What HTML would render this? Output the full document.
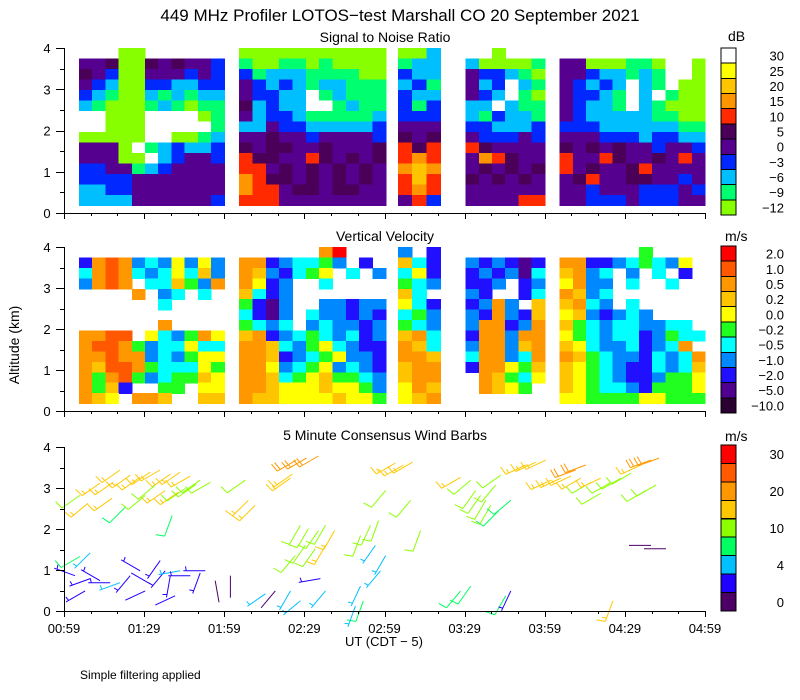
<!DOCTYPE html>
<html>
<head>
<meta charset="utf-8">
<style>
  html,body{margin:0;padding:0;background:#fff;}
  svg{display:block;}
  text{font-family:"Liberation Sans",sans-serif;fill:#000;}
</style>
</head>
<body>
<svg id="chart" width="800" height="700" viewBox="0 0 800 700" shape-rendering="crispEdges">
  <text x="400" y="21" font-size="17" text-anchor="middle">449 MHz Profiler LOTOS−test Marshall CO 20 September 2021</text>
  <text x="385" y="42" font-size="14" text-anchor="middle">Signal to Noise Ratio</text>
  <text x="385" y="241" font-size="14" text-anchor="middle">Vertical Velocity</text>
  <text x="385" y="440" font-size="14" text-anchor="middle">5 Minute Consensus Wind Barbs</text>
  <text x="19" y="345" font-size="14" text-anchor="middle" transform="rotate(-90 19 345)">Altitude (km)</text>
  <text x="384" y="646" font-size="13" text-anchor="middle">UT  (CDT − 5)</text>
  <text x="80" y="679" font-size="12">Simple filtering applied</text>
  <text x="728" y="41" font-size="14">dB</text>
  <text x="725" y="241" font-size="14">m/s</text>
  <text x="725" y="441" font-size="14">m/s</text>
  <g id="layer"></g>
</svg>
<script>
// ---------- shared data ----------
const xTickLabels = ["00:59","01:29","01:59","02:29","02:59","03:29","03:59","04:29","04:59"];
const yTickLabels = ["0","1","2","3","4"];
const segStart = [5.6, 65.6, 125, 150.4, 185.6];   // minutes after 00:59
const segEnd   = [60, 120.5, 141, 180, 240];

const snrColors = ["#88ff00","#00ff70","#00bfff","#0028ff","#560090","#4a0058","#ff2a00","#ff9600","#ffc400","#ffff00","#ffffff"];
const snrLabels = ["−12","−9","−6","−3","0","5","10","15","20","25","30"];
const vvColors = ["#2a0030","#500090","#2010ff","#0088ff","#00ffff","#20ff20","#ffff00","#ffc400","#ff9800","#ff5800","#ff0000"];
const vvLabels = ["−10.0","−5.0","−2.0","−1.0","−0.5","−0.2","0.0","0.2","0.5","1.0","2.0"];
const windColors = ["#4c0066","#2000ff","#00c0ff","#00ff60","#8cff00","#ffc800","#ff9800","#ff5a00","#ff0000"];
const windBounds = [2,4,7,10,15,20,25,30];
const windLabels = ["0","","4","","10","","20","","30"];

const snrSeg1 = ["...00......","44500545443","54300444343","43200332233","32100212122","21000121011","ww000wwww01","ww000wwwww1","00000ww0012","4440w123223","44400w23443","33441234444","33334444444","22334444444","22224444443"];
const snrSeg2 = ["00000000000","10011010000","31222111100","43232122111","43322w12111","52322ww1211","42332111112","22433222223","44544344443","54554454445","65544654545","66454545454","76554545454","76645545544","66644444444"];
const snrSeg3 = ["002","122","322","231","322","313","333","444","545","656","676","787","686","676","463"];
const snrSeg4 = ["..0...","200001","433210","423w21","432w10","22w211","213221","332223","433343","654444","476544","454545","545454","444444","444466"];
const snrSeg5 = ["........www","44000110ww0","44322121ww0","43232w21w00","43321w2w100","43221w21000","43222221100","33322222211","44433323322","54545443443","64465445464","64544564444","45644554434","44344433343","44333433344"];

const vvSeg1 = ["...........","28983436363","48984346473","3898.447538","....8.34.4.","......4....","...........","......8....","8899.643586","89985344644","88988343566","87998544465","85895345576","8572..55.66","876.887..77"];
const vvSeg2 = ["......8a...","88234453.2.","8732456.4.3","8623..4....","7423.......","5213..33233","4213.433232","5434.343323","78234543423","88743564322","88723456332","88634563432","88745675543","88766676653","87766667665"];
const vvSeg3 = ["3.2","742","462","543","74.","642","453","543","784","874","887","788","788","687","678"];
const vvSeg4 = ["......","323212","232314","223.23","32..24","2383.7","328327","388238","288388","388378","488348","288657",".87546",".8765.","......"];
const vvSeg5 = ["......5....","8822345436.","7834.3.4.2.","6833.4..4..","8734.......","7843.4.....","6732343....","7543443344.","65434423544","7643342348.","87543324348","76543224347","76543223556","76544325556","66555566555"];

const barbTime = [13.5,18.4,6,9,18,22.9,28.5,32.3,36,39.8,43.5,47.3,51,37.9,42.8,34.1,45.4,49.5,54.8,21,24.8,30.4,40.5,
  67.9,69,71.6,87,90.8,95.3,85.5,84.8,88.5,91.5,95.3,97.9,101.3,90.4,94.1,97.9,86.6,111,114.8,117.8,
  124.1,127.1,130.5,120.4,129.8,133.5,148.5,152.3,154.1,156,157.9,159.8,161.6,163.5,162.8,167.3,
  172.9,176.6,180.4,191.6,195.4,182.3,186,189.8,193.5,197.3,201,204.8,208.5,212.3,216,219.8,222.8,217.9,221.6,201,
  6,9.8,4.1,9.8,13.5,17.3,7.9,21,24.8,28.5,36,37.9,39.8,43.5,47.3,51,52.9,30.4,32.3,41.6,56.6,62.3,75.4,79.1,84.8,88.5,96,97.9,112.1,118.5,120.4,116.6,109.1,111,148.5,152.3,165.4,167.3,205.5,219.8,225.4];
const barbHeight = [3.12,3.14,2.82,2.63,2.75,2.53,3.26,3.39,3.44,3.34,3.39,3.29,3.19,2.94,2.9,3.07,2.99,3.09,3.14,3.44,3.31,2.82,2.33,
  3.19,2.7,2.58,3.68,3.73,3.78,3.34,3.24,2.09,2.01,1.96,2.09,1.96,1.6,1.52,1.6,1.35,1.84,2.09,2.21,
  3.61,3.56,3.63,2.94,2.7,1.96,3.26,3.19,2.94,2.82,2.7,2.58,3.07,3.31,2.45,2.7,
  3.56,3.63,3.68,3.44,3.56,3.19,3.24,3.29,3.24,3.14,3.24,3.14,3.24,3.36,3.56,3.68,3.73,2.94,3.07,2.87,
  1.33,1.42,0.86,0.79,0.74,0.69,0.49,0.69,0.86,0.98,1.23,0.98,0.86,0.98,0.86,0.93,0.98,0.49,0.66,0.37,0.74,0.86,0.42,0.49,0.49,0.25,0.79,0.49,0.25,0.98,1.35,1.6,0.12,0.61,0.49,0.61,0.37,0.49,0.25,1.6,1.52];
const barbSpeed = [17,17,12,17,17,9,17,17,17,17,17,17,12,17,17,12,12,12,12,17,17,12,9,
  12,17,17,22,22,22,17,17,12,12,12,12,17,12,12,17,12,12,12,12,
  17,17,17,12,12,12,17,12,12,12,12,12,12,12,9,9,
  17,17,17,22,22,17,17,17,17,12,17,12,12,12,17,22,22,12,12,12,
  9,5,3,3,3,3,3,5,3,3,3,3,3,5,3,3,3,2,2,2,1,1,5,1,5,5,3,5,9,5,5,5,5,5,9,9,9,3,17,1,1];
const barbDir = [235,235,235,230,235,225,235,235,240,235,235,240,235,235,235,230,235,235,240,235,235,230,200,
  235,225,225,240,240,240,235,235,210,210,215,210,210,215,215,210,220,200,205,200,
  240,240,240,220,220,200,240,230,215,215,210,210,220,235,225,230,
  245,245,245,250,250,245,245,245,240,240,245,240,240,240,245,250,250,240,240,240,
  240,225,290,250,300,270,240,250,220,300,215,220,190,260,270,200,270,245,300,245,170,180,235,220,210,230,260,220,200,220,210,215,200,205,220,215,210,205,200,270,270];

// ---------- geometry ----------
const X0 = 64, X1 = 705;
function xScale(t){ return X0 + t * (X1 - X0) / 240; }
const panels = [
  {name:"snr", y0:213, y4:48},
  {name:"vv", y0:411, y4:247},
  {name:"wind", y0:611, y4:447}
];
function yScale(p, h){ return p.y0 + (p.y4 - p.y0) * h / 4; }
const NS = "http://www.w3.org/2000/svg";
const layer = document.getElementById("layer");
function mk(tag, attrs, parent){
  const e = document.createElementNS(NS, tag);
  for (const k in attrs) e.setAttribute(k, attrs[k]);
  (parent || layer).appendChild(e);
  return e;
}

const altTop = 4.0, altBottom = 0.18;
function drawGrid(p, segs, colors, label){
  const g = mk("g", {});
  
  
  segs.forEach((rows, s) => {
    const nR = rows.length, nC = rows[0].length;
    const dt = (segEnd[s] - segStart[s]) / nC;
    const dh = (altTop - altBottom) / nR;
    for (let r = 0; r < nR; r++){
      for (let c = 0; c < nC; c++){
        const ch = rows[r][c];
        if (ch === ".") continue;
        const lvl = (ch === "w" || ch === "a") ? 10 : parseInt(ch, 10);
        const xa = xScale(segStart[s] + c * dt), xb = xScale(segStart[s] + (c + 1) * dt);
        const hTop = altTop - r * dh, hBot = hTop - dh;
        const ya = yScale(p, hTop), yb = yScale(p, hBot);
        const rect = mk("rect", {x:xa.toFixed(2), y:ya.toFixed(2), width:(xb - xa + 0.6).toFixed(2), height:(yb - ya + 0.6).toFixed(2), fill:colors[lvl]}, g);
        
        
      }
    }
  });
}
drawGrid(panels[0], [snrSeg1, snrSeg2, snrSeg3, snrSeg4, snrSeg5], snrColors, "snr");
drawGrid(panels[1], [vvSeg1, vvSeg2, vvSeg3, vvSeg4, vvSeg5], vvColors, "vv");

function windColor(s){
  let i = 0;
  while (i < windBounds.length && s >= windBounds[i]) i++;
  return windColors[i];
}
const gb = mk("g", {"shape-rendering":"auto"});


for (let i = 0; i < barbTime.length; i++){
  const p = panels[2];
  const x = xScale(barbTime[i]), y = yScale(p, barbHeight[i]);
  const a = barbDir[i] * Math.PI / 180;
  const ux = Math.sin(a), uy = -Math.cos(a);
  const L = 22;
  const ex = x + ux * L, ey = y + uy * L;
  const col = windColor(barbSpeed[i]);
  const bg = mk("g", {stroke:col, "stroke-width":1, fill:"none"}, gb);
  
  
  mk("line", {x1:x.toFixed(1), y1:y.toFixed(1), x2:ex.toFixed(1), y2:ey.toFixed(1)}, bg);
  const r = 80 * Math.PI / 180;
  const fx = ux * Math.cos(r) - uy * Math.sin(r), fy = ux * Math.sin(r) + uy * Math.cos(r);
  let v = Math.round(barbSpeed[i] / 5) * 5, k = 0;
  while (v >= 10){
    const bx = ex - ux * k * 3.5, by = ey - uy * k * 3.5;
    mk("line", {x1:bx.toFixed(1), y1:by.toFixed(1), x2:(bx + fx * 9).toFixed(1), y2:(by + fy * 9).toFixed(1)}, bg);
    v -= 10; k++;
  }
  if (v >= 5){
    const off = k * 3.5 + (k === 0 ? 3 : 0);
    const bx = ex - ux * off, by = ey - uy * off;
    mk("line", {x1:bx.toFixed(1), y1:by.toFixed(1), x2:(bx + fx * 4.5).toFixed(1), y2:(by + fy * 4.5).toFixed(1)}, bg);
  }
}

panels.forEach(p => {
  const g = mk("g", {stroke:"#000", "stroke-width":1});
  
  
  mk("line", {x1:X0, y1:p.y0 + 0.5, x2:X1, y2:p.y0 + 0.5}, g);
  mk("line", {x1:X0 + 0.5, y1:p.y0 + 0.5, x2:X0 + 0.5, y2:p.y4}, g);
  for (let m = 0; m <= 240; m += 10){
    const x = Math.round(xScale(m)) + 0.5;
    const len = (m % 30 === 0) ? 6 : 3;
    mk("line", {x1:x, y1:p.y0, x2:x, y2:p.y0 + len}, g);
  }
  for (let h = 0; h <= 4; h += 0.5){
    const y = Math.round(yScale(p, h)) + 0.5;
    const len = (h % 1 === 0) ? 8 : 4;
    mk("line", {x1:X0 - len, y1:y, x2:X0, y2:y}, g);
  }
  yTickLabels.forEach((lab, i) => {
    const t = mk("text", {x:47, y:(yScale(p, i) + 5).toFixed(1), "font-size":13, "text-anchor":"middle", stroke:"none"}, g);
    t.textContent = lab;
    
    
  });
});
xTickLabels.forEach((lab, i) => {
  const t = mk("text", {x:xScale(i * 30).toFixed(1), y:633, "font-size":13, "text-anchor":"middle"});
  t.textContent = lab;
  
  
});

function colorbar(top, bottom, colors, labels, name){
  const g = mk("g", {});
  
  
  const n = colors.length, bh = (bottom - top) / n;
  for (let i = 0; i < n; i++){
    const idx = n - 1 - i;
    const y = top + i * bh;
    const r = mk("rect", {x:721, y:y.toFixed(1), width:15, height:bh.toFixed(1), fill:colors[idx], stroke:"#000", "stroke-width":1}, g);
    
    
    if (labels[idx]){
      const t = mk("text", {x:784, y:(y + bh / 2 + 5).toFixed(1), "font-size":13, "text-anchor":"end"}, g);
      t.textContent = labels[idx];
      
      
    }
  }
}
colorbar(48, 215, snrColors, snrLabels, "snr-colorbar");
colorbar(246, 413, vvColors, vvLabels, "vv-colorbar");
colorbar(445, 611, windColors, windLabels, "wind-colorbar");
</script>
</body>
</html>
